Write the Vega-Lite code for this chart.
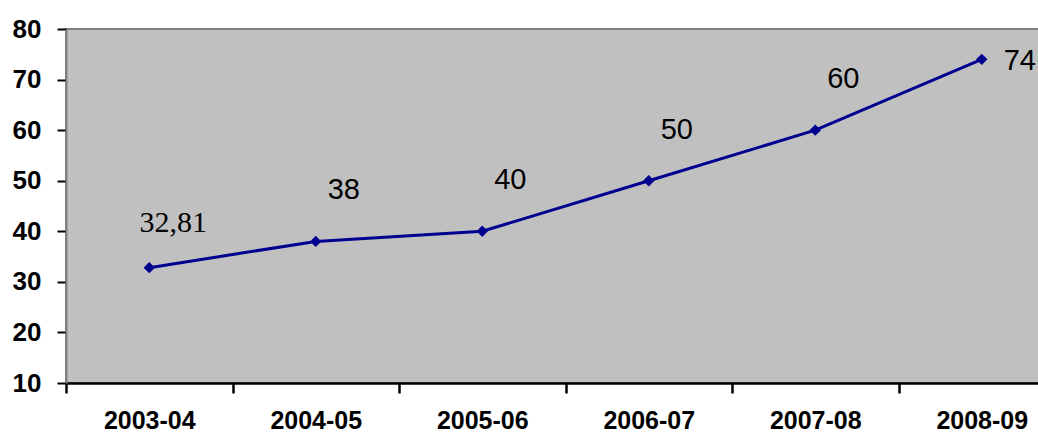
{
  "$schema": "https://vega.github.io/schema/vega-lite/v6.json",
  "autosize": {"type": "none"},
  "padding": {"left": 66, "top": 29, "right": 0, "bottom": 52},
  "width": 999,
  "height": 354,
  "background": "white",
  "config": {
    "view": {"fill": "#C0C0C0", "stroke": "#808080", "strokeWidth": 2},
    "axis": {"grid": false}
  },
  "data": {
    "values": [
      {"year": "2003-04", "value": 32.81, "label": "32,81"},
      {"year": "2004-05", "value": 38, "label": "38"},
      {"year": "2005-06", "value": 40, "label": "40"},
      {"year": "2006-07", "value": 50, "label": "50"},
      {"year": "2007-08", "value": 60, "label": "60"},
      {"year": "2008-09", "value": 74, "label": "74"}
    ]
  },
  "encoding": {
    "x": {
      "field": "year", "type": "nominal", "sort": null,
      "scale": {"paddingInner": 0, "paddingOuter": 0},
      "axis": {
        "title": null, "labelAngle": 0, "domainColor": "black", "domainWidth": 2.5,
        "ticks": true, "tickColor": "black", "tickWidth": 2.5, "tickSize": 10, "tickBand": "extent",
        "labelFont": "Liberation Sans", "labelFontWeight": "bold", "labelFontSize": 25,
        "labelColor": "black", "labelPadding": 15
      }
    },
    "y": {
      "field": "value", "type": "quantitative",
      "scale": {"domain": [10, 80], "nice": false, "zero": false},
      "axis": {
        "title": null, "values": [10, 20, 30, 40, 50, 60, 70, 80],
        "domainColor": "#808080", "domainWidth": 2,
        "ticks": true, "tickColor": "black", "tickWidth": 2, "tickSize": 9,
        "labelFont": "Liberation Sans", "labelFontWeight": "bold", "labelFontSize": 26,
        "labelColor": "black", "labelPadding": 16
      }
    }
  },
  "layer": [
    {"mark": {"type": "line", "color": "#000090", "strokeWidth": 3}},
    {"mark": {"type": "point", "shape": "diamond", "filled": true, "color": "#000090", "opacity": 1, "size": 130}},
    {
      "transform": [{"filter": {"field": "year", "oneOf": ["2003-04"]}}],
      "mark": {"type": "text", "font": "Liberation Serif", "fontSize": 30, "color": "black", "baseline": "alphabetic", "dx": 24, "dy": -36},
      "encoding": {"text": {"field": "label"}}
    },
    {
      "transform": [{"filter": {"field": "year", "oneOf": ["2004-05", "2005-06", "2006-07", "2007-08"]}}],
      "mark": {"type": "text", "font": "Liberation Sans", "fontSize": 29, "color": "black", "baseline": "alphabetic", "dx": 28, "dy": -42},
      "encoding": {"text": {"field": "label"}}
    },
    {
      "transform": [{"filter": {"field": "year", "oneOf": ["2008-09"]}}],
      "mark": {"type": "text", "font": "Liberation Sans", "fontSize": 29, "color": "black", "baseline": "alphabetic", "dx": 38, "dy": 11},
      "encoding": {"text": {"field": "label"}}
    }
  ]
}
